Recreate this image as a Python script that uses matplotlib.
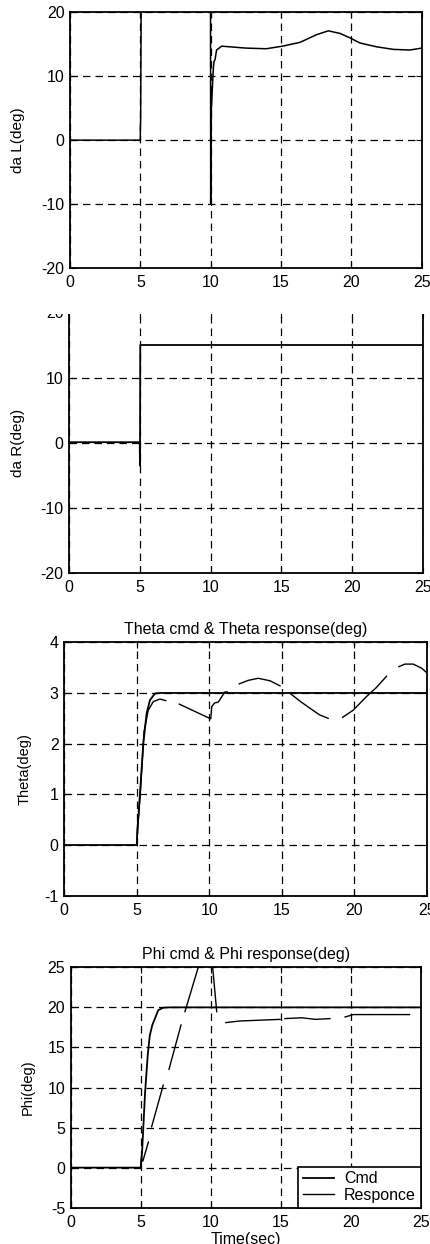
import numpy as np
import matplotlib
matplotlib.use("Agg")
import matplotlib.pyplot as plt
from matplotlib.patches import Rectangle

plt.rcParams['font.family'] = ['Liberation Sans', 'DejaVu Sans']
plt.rcParams['axes.unicode_minus'] = False
nan = np.nan

# da L (deg)
t_dal = [0, 5.0, 5.0, 5.02, 5.1, 9.98, 10.0, 10.05, 10.19, 10.24, 10.31, 10.42, 10.78, 11.37, 12.5,
         13.95, 15.1, 16.35, 17.53, 18.36, 19.19, 19.9, 20.61, 21.8, 22.98, 24.16, 25]
dal = [0, 0, 2.0, 3.0, 40, 40, -10, 5, 11.3, 12.3, 12.6, 14.1, 14.7, 14.6, 14.4,
       14.3, 14.7, 15.3, 16.5, 17.1, 16.7, 16.0, 15.2, 14.6, 14.2, 14.1, 14.4]

# da R (deg)
t_dar = [0, 4.98, 5.0, 5.02, 25]
dar = [0.1, 0.1, -3.5, 15, 15]

# Theta cmd & response
t_th_cmd = [0, 5.0, 5.04, 5.22, 5.45, 5.68, 5.91, 6.26, 6.6, 25]
th_cmd = [0, 0, 0.3, 1.02, 2.0, 2.6, 2.86, 2.99, 3.0, 3.0]
t_th_resp = [5.0, 5.06, 5.25, 5.5, 5.79, 6.14, 6.6, 6.99, nan,
             7.93, 10.1, 10.17, 10.35, 10.62, 10.85, 11.08, 11.25, nan,
             12.07, 12.7, 13.38, 14.2, 14.88, nan,
             15.63, 16.3, 16.94, 17.6, 18.2, nan,
             19.2, 19.93, 20.85, 21.5, 22.23, nan,
             23.08, 23.5, 24.07, 24.65, 25]
th_resp = [0, 0.3, 1.05, 2.24, 2.66, 2.83, 2.88, 2.85, nan,
           2.78, 2.49, 2.73, 2.8, 2.82, 2.92, 3.02, 3.02, nan,
           3.18, 3.25, 3.29, 3.24, 3.14, nan,
           2.98, 2.83, 2.7, 2.57, 2.5, nan,
           2.52, 2.66, 2.93, 3.1, 3.33, nan,
           3.52, 3.57, 3.57, 3.49, 3.4]

# Phi cmd & response
t_phi_cmd = [0, 5.0, 5.1, 5.31, 5.5, 5.65, 5.83, 6.26, 6.61, 7.09, 25]
phi_cmd = [0, 0, 2.0, 9.3, 14.0, 16.5, 17.8, 19.67, 19.96, 20, 20]
t_phi_resp = [5.0, 5.05, 5.15, 5.55, nan,
              5.78, 6.61, nan,
              7.02, 7.88, nan,
              8.16, 9.11, 9.6, 10.0, 10.14, 10.43, nan,
              11.09, 12.09, 13.5, 14.95, nan,
              15.3, 16.5, 17.5, 18.52, nan,
              19.6, 20.19, 21.5, 24.2]
phi_resp = [0, 1.2, 0.8, 3.2, nan,
            5.1, 10.3, nan,
            12.27, 17.8, nan,
            19.46, 25.0, 29, 28, 25, 19.46, nan,
            18.1, 18.3, 18.4, 18.5, nan,
            18.6, 18.7, 18.5, 18.6, nan,
            18.8, 19.1, 19.1, 19.1]

xticks = [0, 5, 10, 15, 20, 25]
W, H = 431, 1244


def add_axes(left, right, top, bottom):
    return fig.add_axes([left / W, (H - bottom) / H, (right - left) / W, (bottom - top) / H])


def style(ax, ylim, yticks, tick_fs=11.5):
    ax.set_xlim(0, 25)
    ax.set_ylim(*ylim)
    ax.set_xticks(xticks)
    ax.set_yticks(yticks)
    ax.grid(True, color='black', linestyle=(0, (6, 4)), linewidth=0.9)
    ax.tick_params(direction='in', length=4, top=True, right=True, labelsize=tick_fs)
    ax.tick_params(axis='x', pad=5)
    ax.tick_params(axis='y', pad=4)
    for s in ax.spines.values():
        s.set_linewidth(1.3)
        s.set_color('black')


fig = plt.figure(figsize=(W / 100, H / 100), dpi=100)

ax1 = add_axes(70, 421.7, 12.3, 268)
ax1.plot(t_dal, dal, color='black', linewidth=1.1)
style(ax1, (-20, 20), [-20, -10, 0, 10, 20])
ax1.set_ylabel('da L(deg)', fontsize=11)
ax1.yaxis.set_label_coords(-0.128, 0.5)

ax2 = add_axes(69.3, 422.7, 312.4, 573.3)
ax2.plot(t_dar, dar, color='black', linewidth=1.3)
style(ax2, (-20, 20), [-20, -10, 0, 10, 20])
ax2.set_ylabel('da R(deg)', fontsize=11)
ax2.yaxis.set_label_coords(-0.125, 0.5)

ax3 = add_axes(64.3, 426.7, 642.3, 895.7)
ax3.plot(t_th_cmd, th_cmd, color='black', linewidth=1.3)
ax3.plot(t_th_resp, th_resp, color='black', linewidth=1.0)
style(ax3, (-1, 4), [-1, 0, 1, 2, 3, 4])
ax3.set_ylabel('Theta(deg)', fontsize=10.5)
ax3.yaxis.set_label_coords(-0.089, 0.5)
ax3.set_title('Theta cmd & Theta response(deg)', fontsize=11.5, pad=6)

ax4 = add_axes(70.7, 420.7, 967.3, 1207.7)
ax4.plot(t_phi_cmd, phi_cmd, color='black', linewidth=1.3, label='Cmd')
ax4.plot(t_phi_resp, phi_resp, color='black', linewidth=1.0, label='Responce')
style(ax4, (-5, 25), [-5, 0, 5, 10, 15, 20, 25])
ax4.set_ylabel('Phi(deg)', fontsize=10.5)
ax4.yaxis.set_label_coords(-0.102, 0.5)
ax4.set_title('Phi cmd & Phi response(deg)', fontsize=11.5, pad=6)
ax4.set_xlabel('Time(sec)', fontsize=11.5)
ax4.xaxis.set_label_coords(0.5, -0.1)
leg = ax4.legend(loc='lower right', fontsize=11.5, frameon=True, fancybox=False,
                 edgecolor='black', framealpha=1, borderaxespad=0, borderpad=0.3,
                 labelspacing=0.1, handlelength=2.0, handletextpad=0.6)
leg.get_frame().set_linewidth(1.2)

# the source scan cuts off the top edge of the second panel
fig.add_artist(Rectangle((0, (H - 314) / H), 1, 15 / H, transform=fig.transFigure,
                         facecolor='white', edgecolor='none', zorder=10))

fig.savefig('out.png', dpi=100)
